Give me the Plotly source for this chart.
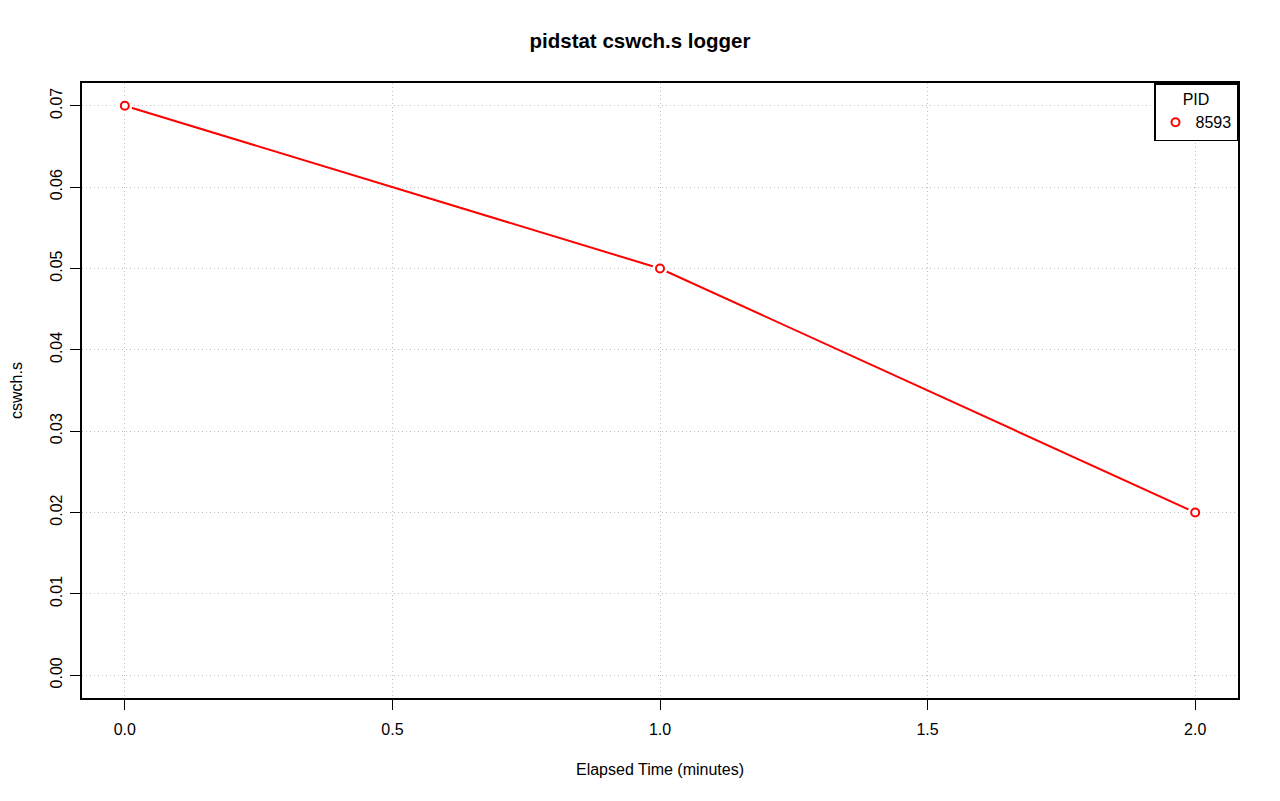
import plotly.graph_objects as go

elapsed = [0.0, 1.0, 2.0]
cswch = [0.07, 0.05, 0.02]
pid = "8593"
x_ticks = [0.0, 0.5, 1.0, 1.5, 2.0]
x_tick_text = ["0.0", "0.5", "1.0", "1.5", "2.0"]
y_ticks = [0.0, 0.01, 0.02, 0.03, 0.04, 0.05, 0.06, 0.07]
y_tick_text = ["0.00", "0.01", "0.02", "0.03", "0.04", "0.05", "0.06", "0.07"]

font = "Liberation Sans, Arial, Helvetica, sans-serif"

fig = go.Figure()
fig.add_trace(go.Scatter(x=elapsed, y=cswch, mode="lines",
                         line=dict(color="red", width=2), showlegend=False,
                         hoverinfo="skip"))
# white gap around points (type="b" style)
fig.add_trace(go.Scatter(x=elapsed, y=cswch, mode="markers",
                         marker=dict(symbol="circle", size=15, color="white"),
                         showlegend=False, hoverinfo="skip"))
fig.add_trace(go.Scatter(x=elapsed, y=cswch, mode="markers", name=pid,
                         marker=dict(symbol="circle-open", size=8,
                                     line=dict(color="red", width=2), color="red"),
                         showlegend=True))

axis_common = dict(showline=True, linecolor="black", linewidth=1.5, mirror=True,
                   ticks="outside", ticklen=10, tickwidth=1, tickcolor="black",
                   showgrid=True, gridcolor="#c0c0c0", griddash="1px,3px", gridwidth=1,
                   zeroline=False, automargin=False,
                   tickfont=dict(size=16, color="black", family=font))

fig.update_xaxes(range=[-0.08, 2.08], tickvals=x_ticks, ticktext=x_tick_text,
                 title=dict(text="Elapsed Time (minutes)", font=dict(size=16, color="black"),
                            standoff=27),
                 ticklabelstandoff=6, **axis_common)
fig.update_yaxes(range=[-0.0028, 0.0728], tickvals=y_ticks, ticktext=y_tick_text,
                 tickangle=-90,
                 title=dict(text="cswch.s", font=dict(size=16, color="black"), standoff=25),
                 ticklabelstandoff=2, **axis_common)

fig.update_layout(
    width=1264, height=785,
    paper_bgcolor="white", plot_bgcolor="white",
    font=dict(family=font, size=16, color="black"),
    margin=dict(l=74, r=34, t=75, b=95, autoexpand=False),
    title=dict(text="<b>pidstat cswch.s logger</b>", x=0.5, xanchor="center",
               y=1 - 33 / 785, yanchor="middle", font=dict(size=20.5, color="black")),
    legend=dict(x=1, y=1, xanchor="right", yanchor="top",
                bordercolor="black", borderwidth=1.5, bgcolor="white",
                title=dict(text="PID", side="top center", font=dict(size=16)),
                font=dict(size=16), itemwidth=30),
    showlegend=True,
)

fig.write_html("out.html")
